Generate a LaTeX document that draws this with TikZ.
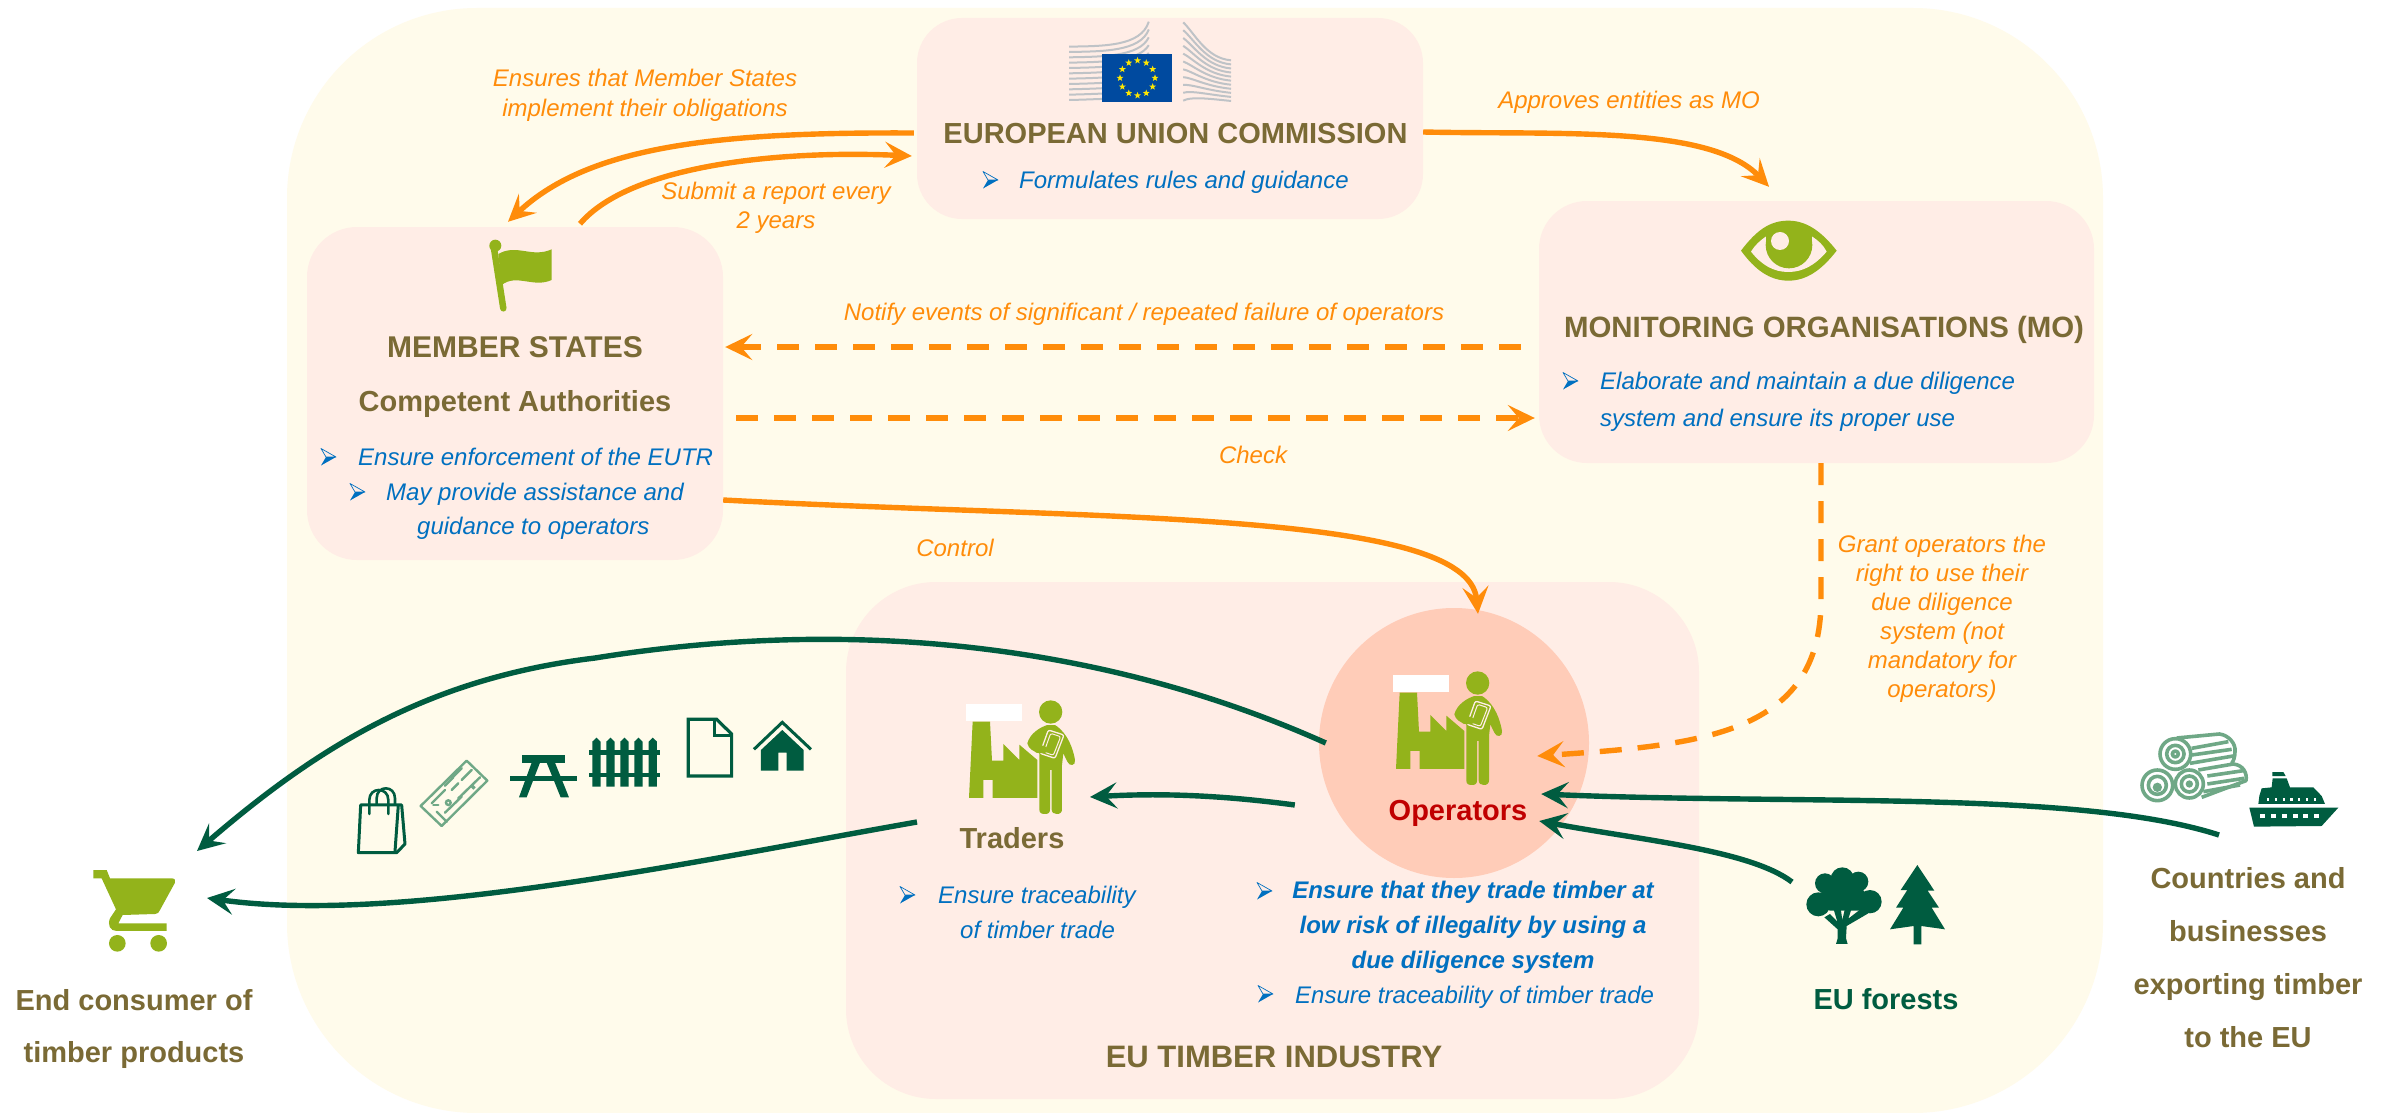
\documentclass[tikz,border=0pt]{standalone}
\usepackage{fontspec}
\setmainfont{Liberation Sans}
\usetikzlibrary{arrows.meta}
\definecolor{bgcream}{HTML}{FFFBEB}
\definecolor{boxpink}{HTML}{FFEDE6}
\definecolor{opfill}{HTML}{FFCCB8}
\definecolor{orangeL}{HTML}{FF8C0A}
\definecolor{greenD}{HTML}{005C40}
\definecolor{greenL}{HTML}{6FA886}
\definecolor{olive}{HTML}{7A6A35}
\definecolor{blueT}{HTML}{0070C0}
\definecolor{limeI}{HTML}{93B31B}
\definecolor{opred}{HTML}{C00000}
\definecolor{euBlue}{HTML}{004A9F}
\definecolor{euGrey}{HTML}{BFC3C7}
\newcommand{\fs}[1]{\fontsize{#1}{#1}\selectfont}
\tikzset{
  x=1pt,y=-1pt,
  box/.style={fill=boxpink,rounded corners=#1,inner sep=0pt},
  ttl/.style={inner sep=0pt,anchor=base,text=olive,font=\fs{29}\bfseries},
  blu/.style={inner sep=0pt,anchor=base west,text=blueT,font=\fs{24}\itshape},
  blub/.style={inner sep=0pt,anchor=base,text=blueT,font=\fs{24}\bfseries\itshape},
  org/.style={inner sep=0pt,anchor=base,text=orangeL,font=\fs{24}\itshape},
  oarrow/.style={draw=orangeL,line width=5.4pt,-{Stealth[length=27pt,width=26pt,inset=11pt]}},
  odash/.style={oarrow,dash pattern=on 22pt off 16pt},
  garrow/.style={draw=greenD,line width=5.4pt,-{Stealth[length=27pt,width=26pt,inset=11pt]}},
  listmark/.pic={
    \fill[blueT] (15,0)--(5,0)--(0,8.5)--cycle;
    \draw[blueT,line width=0.7pt,line join=round] (0,-8.5)--(15,0)--(5,0)--cycle;
  },
  worker/.pic={
    \begin{scope}[x=0.3333pt,y=-0.3333pt]
      \fill[white] (108,102) rectangle (276,152);
      \fill[limeI] (128,155)--(180,155)--(186,272)--(220,272)--(220,222)--(268,270)--(268,224)--(322,270)--(322,384)--(188,384)--(188,330)--(160,330)--(160,384)--(117,384)--cycle;
      \fill[limeI] (362,126) circle[radius=35];
      \fill[limeI] (352,165) .. controls (330,172) and (300,190) .. (292,220) .. controls (295,235) and (310,245) .. (328,250) -- (328,418) .. controls (328,430) and (335,432) .. (345,432) .. controls (355,432) and (360,428) .. (360,418) -- (360,300) -- (365,300) -- (365,418) .. controls (365,428) and (372,432) .. (380,432) .. controls (390,432) and (396,428) .. (396,418) -- (396,285) -- (400,250) -- (412,275) .. controls (418,290) and (438,288) .. (435,270) .. controls (430,240) and (415,190) .. (375,165) -- cycle;
      \draw[boxpink,line width=1.3pt,fill=limeI,rounded corners=2pt,line join=round] (355,180)--(402,195)--(375,265)--(330,250)--cycle;
      \draw[boxpink,line width=1pt,rounded corners=2pt] (362,190)--(392,200)--(370,256)--(342,246)--cycle;
      \fill[limeI] (310,228) .. controls (330,222) and (352,228) .. (356,240) .. controls (352,252) and (335,250) .. (318,248) -- cycle;
    \end{scope}
  }
}
\begin{document}
\begin{tikzpicture}
\useasboundingbox (0,0) rectangle (2404,1113);
\fill[white] (0,0) rectangle (2404,1113);
% big panel
\fill[bgcream,rounded corners=190pt] (287,8) rectangle (2103,1113);
% boxes
\node[box=45pt,minimum width=506pt,minimum height=201pt] (ec) at (1170,118.5) {};
\node[box=50pt,minimum width=416pt,minimum height=333pt] (ms) at (515,393.5) {};
\node[box=48pt,minimum width=555pt,minimum height=262pt] (mo) at (1816.5,332) {};
\node[box=90pt,minimum width=853pt,minimum height=517pt] (ind) at (1272.5,840.5) {};
\fill[opfill] (1454,743) circle[radius=135];
\node[circle,inner sep=0pt,minimum size=270pt] (op) at (1454,743) {};
\coordinate (tr) at (1010,760);
\coordinate (cart) at (135,895);
\coordinate (exp) at (2248,790);
\coordinate (frst) at (1886,900);

% EU commission logo
\begin{scope}[shift={(900,0)},x=0.3827pt,y=-0.3333pt]
  \foreach \i in {0,...,10}{
    \draw[euGrey,line width=2pt] (442,{300-\i*16}) .. controls (530,{300-\i*16-2}) and ({610+\i*2},{300-\i*15-10}) .. (650,{300-\i*23.5});
    \draw[euGrey,line width=2pt] (740,{302-\i*23.5}) .. controls ({760+\i*1},{290-\i*19}) and (800,{295-\i*12}) .. (865,{303-\i*12.2});
  }
  \fill[euBlue] (529,163) rectangle (711,305);
\end{scope}
\foreach \a in {0,30,...,330}{
  \fill[yellow!90!orange,shift={(\a:17.5)},shift={(1137.5,78)}] (-90:3.6)--(-54:1.5)--(-18:3.6)--(18:1.5)--(54:3.6)--(90:1.5)--(126:3.6)--(162:1.5)--(198:3.6)--(234:1.5)--cycle;
}
% flag
\begin{scope}[shift={(300,220)},x=0.3333pt,y=-0.3333pt]
  \draw[limeI,line width=6.5pt,line cap=round] (582,85)--(610,265);
  \fill[limeI] (586,77) circle[radius=18];
  \fill[limeI] (595,102) .. controls (650,70) and (695,115) .. (755,88) -- (755,180) .. controls (700,205) and (650,160) .. (605,195) -- cycle;
\end{scope}
% eye
\begin{scope}[shift={(1720,200)},x=0.3333pt,y=-0.3333pt]
  \fill[limeI] (63,152) .. controls (110,90) and (150,62) .. (205,62) .. controls (260,62) and (305,95) .. (350,152) .. controls (305,210) and (260,242) .. (205,242) .. controls (150,242) and (105,210) .. (63,152) -- cycle;
  \fill[boxpink] (93,155) .. controls (105,135) and (120,122) .. (137,110) -- (277,110) .. controls (295,122) and (310,135) .. (320,155) .. controls (285,195) and (250,216) .. (205,216) .. controls (160,216) and (125,195) .. (93,155) -- cycle;
  \fill[limeI] (137,105) rectangle (277,135);
  \fill[limeI] (207,135) circle[radius=70];
  \fill[boxpink] (180,123) circle[radius=27];
\end{scope}
% workers
\pic at (930,670) {worker};
\pic at (1357,641) {worker};
% consumer goods
\begin{scope}[shift={(330,690)},x=0.3333pt,y=-0.3333pt]
  \draw[greenD,line width=3pt,line join=round] (92,345)--(215,345)--(225,462)--(200,488)--(85,488)--cycle;
  \draw[greenD,line width=3pt] (205,345)--(195,485);
  \draw[greenD,line width=2.6pt,line cap=round] (118,372)--(118,330) .. controls (118,290) and (175,290) .. (175,330) -- (175,372);
  \draw[greenD,line width=2.6pt] (140,345)--(140,325) .. controls (140,285) and (195,285) .. (195,325) -- (195,345);
  \draw[greenL,line width=2.4pt,line join=round] (410,212)--(472,272)--(335,408)--(272,348)--cycle;
  \begin{scope}[greenL,line width=2.4pt,line cap=round]
    \draw (395,235)--(365,265); \draw (425,240)--(395,270); \draw (450,262)--(385,325);
    \draw (430,292) circle[radius=2];
    \draw (370,262)--(345,287); \draw (345,300)--(305,340); \draw (385,280)--(365,300);
    \draw (395,320)--(345,368); \draw (325,345)--(310,345); \draw (320,365)--(350,395);
    \draw (355,338) circle[radius=7];
  \end{scope}
  \fill[greenD] (577,195) rectangle (705,218);
  \fill[greenD] (540,259) rectangle (742,272);
  \fill[greenD] (605,218)--(630,218)--(590,322)--(567,322)--cycle;
  \fill[greenD] (650,218)--(675,218)--(717,322)--(692,322)--cycle;
  \foreach \x in {787,829,871,913,956}{
    \fill[greenD] (\x,290)--(\x,155)--({\x+12.5},143)--({\x+25},155)--({\x+25},290)--cycle;
  }
  \fill[greenD] (778,180) rectangle (990,195);
  \fill[greenD] (778,248) rectangle (990,262);
  \draw[greenD,line width=3.2pt,line join=miter] (1075,88)--(1160,88)--(1205,132)--(1205,258)--(1075,258)--cycle;
  \draw[greenD,line width=3pt] (1155,88)--(1155,137)--(1205,137);
  \draw[greenD,line width=3pt] (1272,178)--(1357,97)--(1443,178);
  \fill[greenD] (1293,242)--(1293,180)--(1357,120)--(1421,180)--(1421,242)--(1370,242)--(1370,188)--(1345,188)--(1345,242)--cycle;
\end{scope}
% logs and ship
\begin{scope}[shift={(2120,710)},x=0.3333pt,y=-0.3333pt]
  \begin{scope}[greenL,line width=3.6pt,line join=round]
    \draw (170,84)--(298,72) .. controls (325,75) and (348,100) .. (345,125) .. controls (345,140) and (340,155) .. (335,160);
    \draw (215,115)--(325,95); \draw (215,135)--(335,118); \draw (210,160)--(340,138);
    \draw (235,180)--(340,162) .. controls (370,165) and (382,190) .. (378,212) -- (245,262);
    \draw (262,198)--(370,182); \draw (262,222)--(372,205); \draw (250,245)--(360,225);
    \draw[fill=white] (166,132) circle[radius=46]; \draw (166,132) circle[radius=26]; \draw (166,132) circle[radius=9];
    \draw[fill=white] (112,226) circle[radius=46]; \draw (112,226) circle[radius=27]; \fill (112,232) circle[radius=14];
    \draw[fill=white] (208,222) circle[radius=42]; \draw (208,222) circle[radius=24]; \fill (208,222) circle[radius=11];
  \end{scope}
  \fill[greenD] (388,293)--(655,293)--(605,348)--(402,350)--cycle;
  \fill[greenD] (425,235)--(455,232)--(458,205)--(500,205)--(510,232)--(580,232)--(605,258)--(615,282)--(415,282)--(418,258)--cycle;
  \fill[greenD] (457,186)--(490,186)--(497,198)--(457,198)--cycle;
  \foreach \x in {421,453,485,518,550,583}{\fill[white] (\x,311) rectangle ({\x+15},325);}
  \foreach \x in {440,464,488,511,534,557,581}{\fill[white] (\x,265) rectangle ({\x+7},273);}
\end{scope}
% trees
\begin{scope}[shift={(1780,840)},x=0.3333pt,y=-0.3333pt]
  \fill[greenD] (135,130) circle[radius=30] (187,117) circle[radius=35] (235,125) circle[radius=30] (115,193) circle[radius=36] (270,185) circle[radius=35];
  \fill[greenD] (115,193)--(135,130)--(187,117)--(235,125)--(270,185)--(245,212)--(150,212)--cycle;
  \fill[greenD] (168,312)--(203,312)--(198,295)--(200,258)--(265,220)--(245,205)--(205,236)--(215,205)--(195,205)--(187,240)--(182,205)--(160,205)--(172,245)--(150,222)--(133,232)--(173,268)--(173,295)--cycle;
  \fill[greenD] (412,75)--(463,152)--(443,152)--(477,203)--(455,203)--(495,268)--(424,258)--(424,313)--(401,313)--(401,258)--(330,268)--(370,203)--(348,203)--(382,150)--(362,150)--cycle;
\end{scope}
% cart
\begin{scope}[shift={(60,840)},x=0.3333pt,y=-0.3333pt]
  \fill[limeI] (100,90)--(140,90)--(150,115)--(335,115) .. controls (345,115) and (348,122) .. (345,128) -- (300,210) .. controls (295,220) and (290,222) .. (285,222) -- (188,225)--(175,250)--(320,250)--(320,273)--(170,273) .. controls (150,273) and (142,255) .. (150,235) -- (168,208)--(125,115)--(100,115)--cycle;
  \fill[limeI] (172,310) circle[radius=25] (296,310) circle[radius=25];
\end{scope}

% connectors
\draw[oarrow] ([xshift=-3pt,yshift=-14.5pt]ec.west) .. controls (720,132) and (590,145) .. ([xshift=-7pt,yshift=5pt]ms.north);
\draw[oarrow] ([xshift=65pt,yshift=3pt]ms.north) .. controls (630,165) and (780,150) .. ([xshift=-5pt,yshift=-37.5pt]ec.west);
\draw[oarrow] ([yshift=-13.5pt]ec.east) .. controls (1560,135) and (1710,125) .. ([xshift=-47.5pt,yshift=14pt]mo.north);
\draw[odash] ([xshift=-18pt,yshift=-15pt]mo.west) -- ([xshift=2pt,yshift=46.5pt]ms.east);
\draw[odash] ([xshift=13pt,yshift=-24.5pt]ms.east) -- ([xshift=-4pt,yshift=-86pt]mo.west);
\draw[oarrow] ([yshift=-106.5pt]ms.east) .. controls (1100,520) and (1468,510) .. ([xshift=24pt,yshift=-6pt]op.north);
\draw[odash] ([xshift=4.5pt]mo.south) -- (1821,600) .. controls (1821,735) and (1700,745) .. ([xshift=-52pt,yshift=-13pt]op.east);
\draw[garrow] ([xshift=7pt]op.west) .. controls (1130,655) and (880,612) .. (595,658) .. controls (430,678) and (320,745) .. ([xshift=62pt,yshift=44pt]cart);
\draw[garrow] ([xshift=-24pt,yshift=-62pt]op.west) .. controls (1220,795) and (1160,793) .. ([xshift=80pt,yshift=-37pt]tr);
\draw[garrow] ([xshift=-93pt,yshift=-62pt]tr) .. controls (700,860) and (400,925) .. ([xshift=72pt,yshift=-3pt]cart);
\draw[garrow] ([xshift=-29pt,yshift=-45pt]exp) .. controls (2080,790) and (1800,805) .. ([xshift=-48pt,yshift=-51pt]op.east);
\draw[garrow] ([xshift=-94pt,yshift=18pt]frst) .. controls (1750,850) and (1640,840) .. ([xshift=-50pt,yshift=-78pt]op.east);

% titles
\node[ttl] (t1) at (1175.5,144) {EUROPEAN UNION COMMISSION};
\node[ttl,font=\fs{30}\bfseries] (t2) at (515,357) {MEMBER STATES};
\node[ttl] (t3) at (515,411) {Competent Authorities};
\node[ttl,font=\fs{29.4}\bfseries] (t4) at (1824,337) {MONITORING ORGANISATIONS (MO)};
\node[ttl,text=opred] (t5) at (1458,820) {Operators};
\node[ttl] (t6) at (1012,848) {Traders};
\node[ttl,font=\fs{31}\bfseries] (t7) at (1274,1067) {EU TIMBER INDUSTRY};
\node[ttl,text=greenD] (t8) at (1886,1009) {EU forests};
\node[ttl] (t9a) at (134,1010) {End consumer of};
\node[ttl] (t9b) at (134,1062) {timber products};
\node[ttl] (t10a) at (2248,888) {Countries and};
\node[ttl] (t10b) at (2248,941) {businesses};
\node[ttl] (t10c) at (2248,994) {exporting timber};
\node[ttl] (t10d) at (2248,1047) {to the EU};

% blue texts
\pic at (983,180) {listmark};
\node[blu] (f1) at (1019,188) {Formulates rules and guidance};
\pic at (321,457) {listmark};
\node[blu] (f2) at (358,465) {Ensure enforcement of the EUTR};
\pic at (350,492) {listmark};
\node[blu] (f3) at (386,500) {May provide assistance and};
\node[blu] (f4) at (417,534) {guidance to operators};
\pic at (1563,381) {listmark};
\node[blu] (f5) at (1600,389) {Elaborate and maintain a due diligence};
\node[blu] (f6) at (1600,426) {system and ensure its proper use};
\pic at (900,895) {listmark};
\node[blu] (f7) at (938,903) {Ensure traceability};
\node[blu] (f8) at (960,938) {of timber trade};
\pic at (1257,891) {listmark};
\node[blub] (f9) at (1473,898) {Ensure that they trade timber at};
\node[blub] (f10) at (1473,933) {low risk of illegality by using a};
\node[blub] (f11) at (1473,968) {due diligence system};
\pic at (1258,994) {listmark};
\node[blu] (f12) at (1295,1003) {Ensure traceability of timber trade};

% orange labels
\node[org] (l1a) at (645,87) {Ensures that Member States};
\node[org] (l1b) at (645,117) {implement their obligations};
\node[org] (l2) at (1629,109) {Approves entities as MO};
\node[org] (l3a) at (776,199) {Submit a report every};
\node[org] (l3b) at (776,228) {2 years};
\node[org] (l4) at (1144,320) {Notify events of significant / repeated failure of operators};
\node[org] (l5) at (1253,463) {Check};
\node[org] (l6) at (955,556) {Control};
\node[org] (l7a) at (1942,552) {Grant operators the};
\node[org] (l7b) at (1942,581) {right to use their};
\node[org] (l7c) at (1942,610) {due diligence};
\node[org] (l7d) at (1942,639) {system (not};
\node[org] (l7e) at (1942,668) {mandatory for};
\node[org] (l7f) at (1942,697) {operators)};
\end{tikzpicture}
\end{document}
